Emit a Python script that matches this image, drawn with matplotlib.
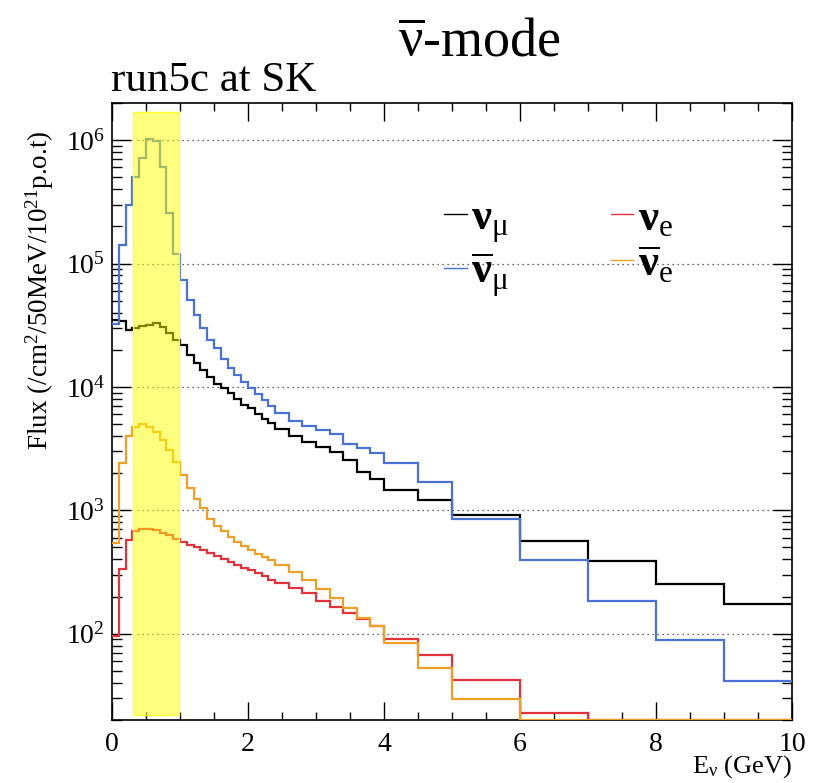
import numpy as np
import matplotlib
matplotlib.use("Agg")
import matplotlib.pyplot as plt
from matplotlib.patches import Rectangle
from matplotlib.lines import Line2D
from matplotlib.ticker import LogLocator, NullFormatter, MultipleLocator

plt.rcParams['font.family'] = ['Liberation Serif', 'DejaVu Serif']
plt.rcParams['mathtext.fontset'] = 'custom'
plt.rcParams['mathtext.rm'] = 'Liberation Serif'
plt.rcParams['mathtext.it'] = 'Liberation Serif:italic'
plt.rcParams['mathtext.bf'] = 'Liberation Serif:bold'

# Bin edges (GeV): 100 MeV up to 2.4, 200 MeV up to 4, then 0.5 and 1 GeV bins
bin_edges = [0.0, 0.1, 0.2, 0.3, 0.4, 0.5, 0.6, 0.7, 0.8, 0.9, 1.0,
             1.1, 1.2, 1.3, 1.4, 1.5, 1.6, 1.7, 1.8, 1.9, 2.0,
             2.1, 2.2, 2.3, 2.4, 2.6, 2.8, 3.0, 3.2, 3.4, 3.6, 3.8, 4.0,
             4.5, 5.0, 6.0, 7.0, 8.0, 9.0, 10.0]

# Flux per bin (/cm^2/50MeV/1e21 p.o.t)
flux_numu = [34800, 34500, 28700, 30000, 31200, 32000, 33000, 30600, 27100, 24200,
             22000, 18100, 15500, 13800, 12100, 10500, 9730, 8870, 7930, 7130,
             6700, 6030, 5500, 5070, 4600, 4000, 3550, 3250, 2990, 2560, 2060, 1790,
             1466, 1217, 908, 560, 386, 253, 173]
flux_numubar = [32200, 140000, 300000, 499000, 720000, 1020000, 987000, 600000, 257000, 120000,
                73900, 50900, 38000, 30300, 24200, 20500, 16800, 14100, 12400, 11000,
                9720, 8700, 7800, 7000, 6200, 5300, 4850, 4450, 4150, 3450, 3220, 2900,
                2440, 1690, 852, 396, 183, 88.7, 41.4]
flux_nue = [95.7, 335, 578, 675, 709, 709, 688, 654, 626, 586,
            550, 527, 501, 480, 452, 430, 404, 379, 358, 341,
            326, 311, 292, 275, 258, 235, 212, 183, 166, 148, 131, 115,
            91.2, 66.7, 42.2, 22.6, 0, 0, 0]
flux_nuebar = [543, 2440, 4000, 4760, 4980, 4760, 4340, 3720, 3080, 2480,
               1940, 1510, 1230, 1040, 849, 750, 675, 608, 550, 511,
               474, 446, 419, 394, 363, 315, 275, 231, 195, 162, 135, 115,
               84.5, 52.8, 29.8, 0, 0, 0, 0]

labels = [r'$\mathbf{\nu}_{\mathrm{\mu}}$', r'$\overline{\mathbf{\nu}}_{\mathrm{\mu}}$',
          r'$\mathbf{\nu}_{\mathrm{e}}$', r'$\overline{\mathbf{\nu}}_{\mathrm{e}}$']
colors = ['black', '#4a72d4', '#e2323c', '#eea024']
series = [flux_numu, flux_numubar, flux_nue, flux_nuebar]

# Highlighted energy window
band_lo, band_hi = 0.305, 0.98

ymin, ymax = 20, 2e6

fig = plt.figure(figsize=(8.15, 7.83), dpi=100)
ax = fig.add_axes([0.1374, 0.0805, 0.8344, 0.788])

edges = np.array(bin_edges)
handles = []
for vals, col, lab in zip(series, colors, labels):
    v = np.clip(np.array(vals, dtype=float), ymin, None)
    ax.stairs(v, edges, baseline=None, color=col, linewidth=1.6, zorder=3)
    handles.append(Line2D([], [], color=col, linewidth=1.0))

ax.add_patch(Rectangle((band_lo, 22), band_hi - band_lo, 1.7e6 - 22,
                       facecolor=(1, 1, 0, 0.5), edgecolor=(1, 1, 0.2, 1),
                       linewidth=1.0, zorder=4))

ax.set_yscale('log')
ax.set_xlim(0, 10)
ax.set_ylim(ymin, ymax)

ax.xaxis.set_major_locator(MultipleLocator(2))
ax.xaxis.set_minor_locator(MultipleLocator(0.5))
ax.yaxis.set_major_locator(LogLocator(base=10, numticks=20))
ax.yaxis.set_minor_locator(LogLocator(base=10, subs=np.arange(2, 10), numticks=50))
ax.yaxis.set_minor_formatter(NullFormatter())

ax.tick_params(axis='both', which='both', direction='in', top=True, right=True)
ax.tick_params(axis='x', which='major', length=13, width=1.0, labelsize=20, pad=9)
ax.tick_params(axis='x', which='minor', length=6, width=1.0)
ax.tick_params(axis='y', which='major', length=14, width=1.0, labelsize=20, pad=5)
ax.tick_params(axis='y', which='minor', length=7, width=1.0)

ax.yaxis.grid(True, which='major', linestyle=(0, (1, 3)), color='#333333', linewidth=0.9)
ax.set_axisbelow(True)

for s in ax.spines.values():
    s.set_linewidth(1.2)

ax.text(1.0, -0.054, r'E$_{\mathrm{\nu}}$ (GeV)', transform=ax.transAxes,
        ha='right', va='top', fontsize=19)
fig.text(0.049, 0.6296, r'Flux (/cm$^{2}$/50MeV/10$^{21}$p.o.t)', rotation=90,
         ha='center', va='center', fontsize=19.5)

fig.text(0.136, 0.884, 'run5c at SK', ha='left', va='baseline', fontsize=31)
fig.text(0.588, 0.928, r'$\overline{\mathrm{\nu}}$-mode', ha='center', va='baseline', fontsize=39)

leg = ax.legend(handles, labels, ncol=2, frameon=False, fontsize=32,
                loc='upper left', bbox_to_anchor=(0.43, 0.91),
                handlelength=0.5, handletextpad=0.1, columnspacing=2.3,
                labelspacing=0.12)

fig.savefig('out.png', dpi=100)
